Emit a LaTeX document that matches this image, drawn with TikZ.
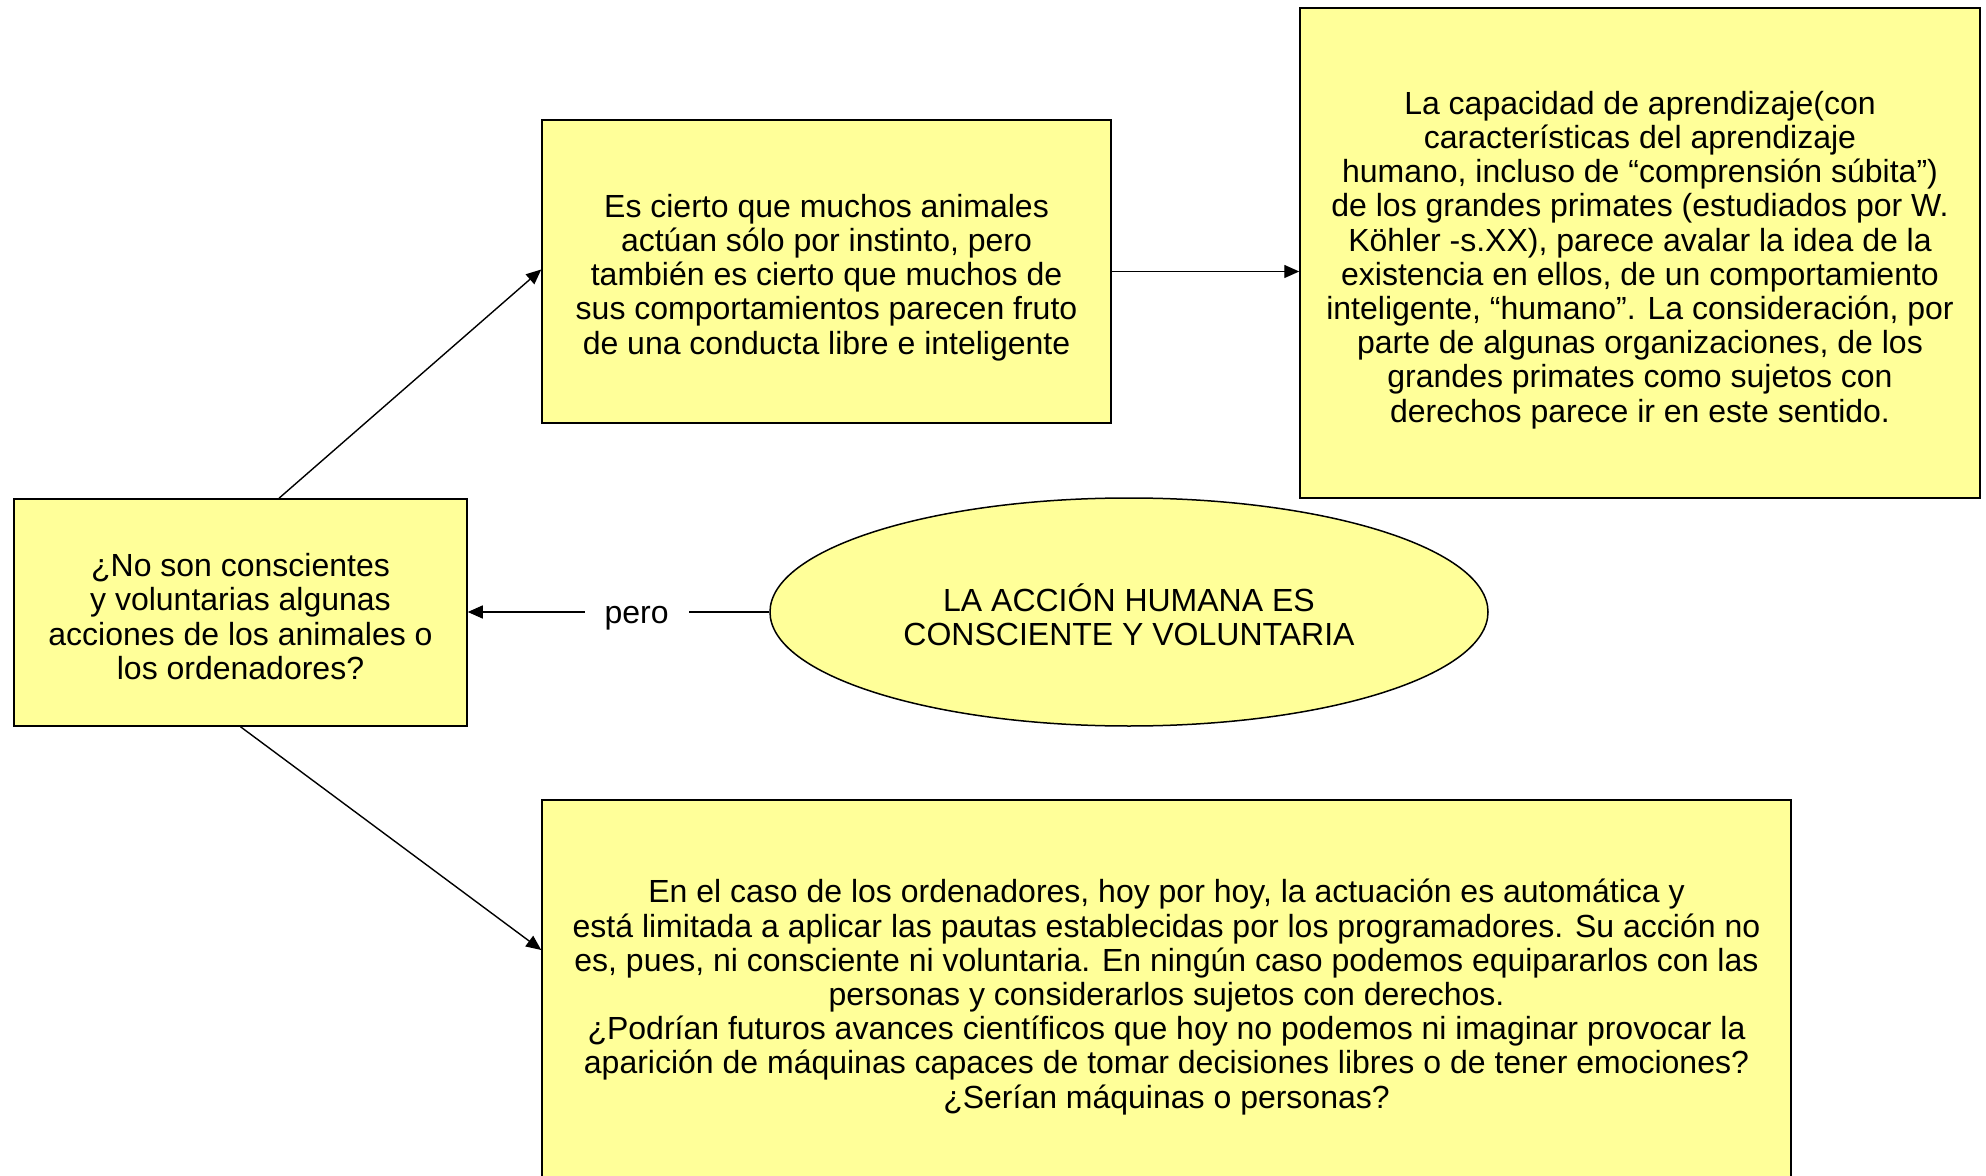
\documentclass[tikz,border=0pt]{standalone}
\usepackage{fontspec}
\setmainfont{Liberation Sans}
\usetikzlibrary{shapes.geometric,arrows.meta,calc}
\definecolor{boxyellow}{RGB}{255,255,153}
\begin{document}
\begin{tikzpicture}[x=0.5pt,y=-0.5pt,
  every node/.style={font=\fontsize{16}{17.1}\selectfont, align=center},
  ybox/.style={draw=black, line width=0.75pt, fill=boxyellow, rectangle, inner sep=0pt},
  boxtext/.style={inner sep=0pt, yshift=#1},
  conn/.style={line width=0.7pt, -{Triangle[length=7.5pt,width=6.5pt]}}]
\useasboundingbox (0,0) rectangle (1986,1176);
\clip (0,0) rectangle (1986,1176);
\node[ybox, minimum width=226.5pt, minimum height=113.5pt] (lb) at (240.5,612.5) {};
\node[boxtext=-2pt] (lbt) at (lb.center)
  {¿No son conscientes\\y voluntarias algunas\\acciones de los animales o\\los ordenadores?};
\node[ybox, minimum width=284.5pt, minimum height=151.5pt] (mb) at (826.5,271.5) {};
\node[boxtext=-3pt] (mbt) at (mb.center)
  {Es cierto que muchos animales\\actúan sólo por instinto, pero\\también es cierto que muchos de\\sus comportamientos parecen fruto\\de una conducta libre e inteligente};
\node[ybox, minimum width=340pt, minimum height=245pt] (rb) at (1640,253) {};
\node[boxtext=-3.5pt] (rbt) at (rb.center)
  {La capacidad de aprendizaje(con\\características del aprendizaje\\humano, incluso de “comprensión súbita”)\\de los grandes primates (estudiados por W.\\Köhler -s.XX), parece avalar la idea de la\\existencia en ellos, de un comportamiento\\inteligente, “humano”. La consideración, por\\parte de algunas organizaciones, de los\\grandes primates como sujetos con\\derechos parece ir en este sentido.};
\node[ybox, ellipse, minimum width=359pt, minimum height=114pt] (el) at (1129,612) {};
\node[boxtext=-1.3pt] (elt) at (el.center)
  {LA ACCIÓN HUMANA ES\\CONSCIENTE Y VOLUNTARIA};
\node[ybox, minimum width=624.5pt, minimum height=193pt] (bb) at (1166.5,993) {};
\node[boxtext=-2pt] (bbt) at (bb.center)
  {En el caso de los ordenadores, hoy por hoy, la actuación es automática y\\está limitada a aplicar las pautas establecidas por los programadores. Su acción no\\es, pues, ni consciente ni voluntaria. En ningún caso podemos equipararlos con las\\personas y considerarlos sujetos con derechos.\\¿Podrían futuros avances científicos que hoy no podemos ni imaginar provocar la\\aparición de máquinas capaces de tomar decisiones libres o de tener emociones?\\¿Serían máquinas o personas?};
\draw[conn] ($(lb.north)+(38.5,0)$) -- ($(mb.west)+(0,-2)$);
\draw[conn] (mb.east) -- (rb.west |- mb.east);
\draw[conn] (el.west) -- node[pos=0.44, fill=white, inner xsep=10pt, inner ysep=1pt, text height=11pt, text depth=0pt] (pero) {pero} (lb.east |- el.west);
\draw[conn] (lb.south) -- ($(bb.west)+(0,-43)$);
\end{tikzpicture}
\end{document}
